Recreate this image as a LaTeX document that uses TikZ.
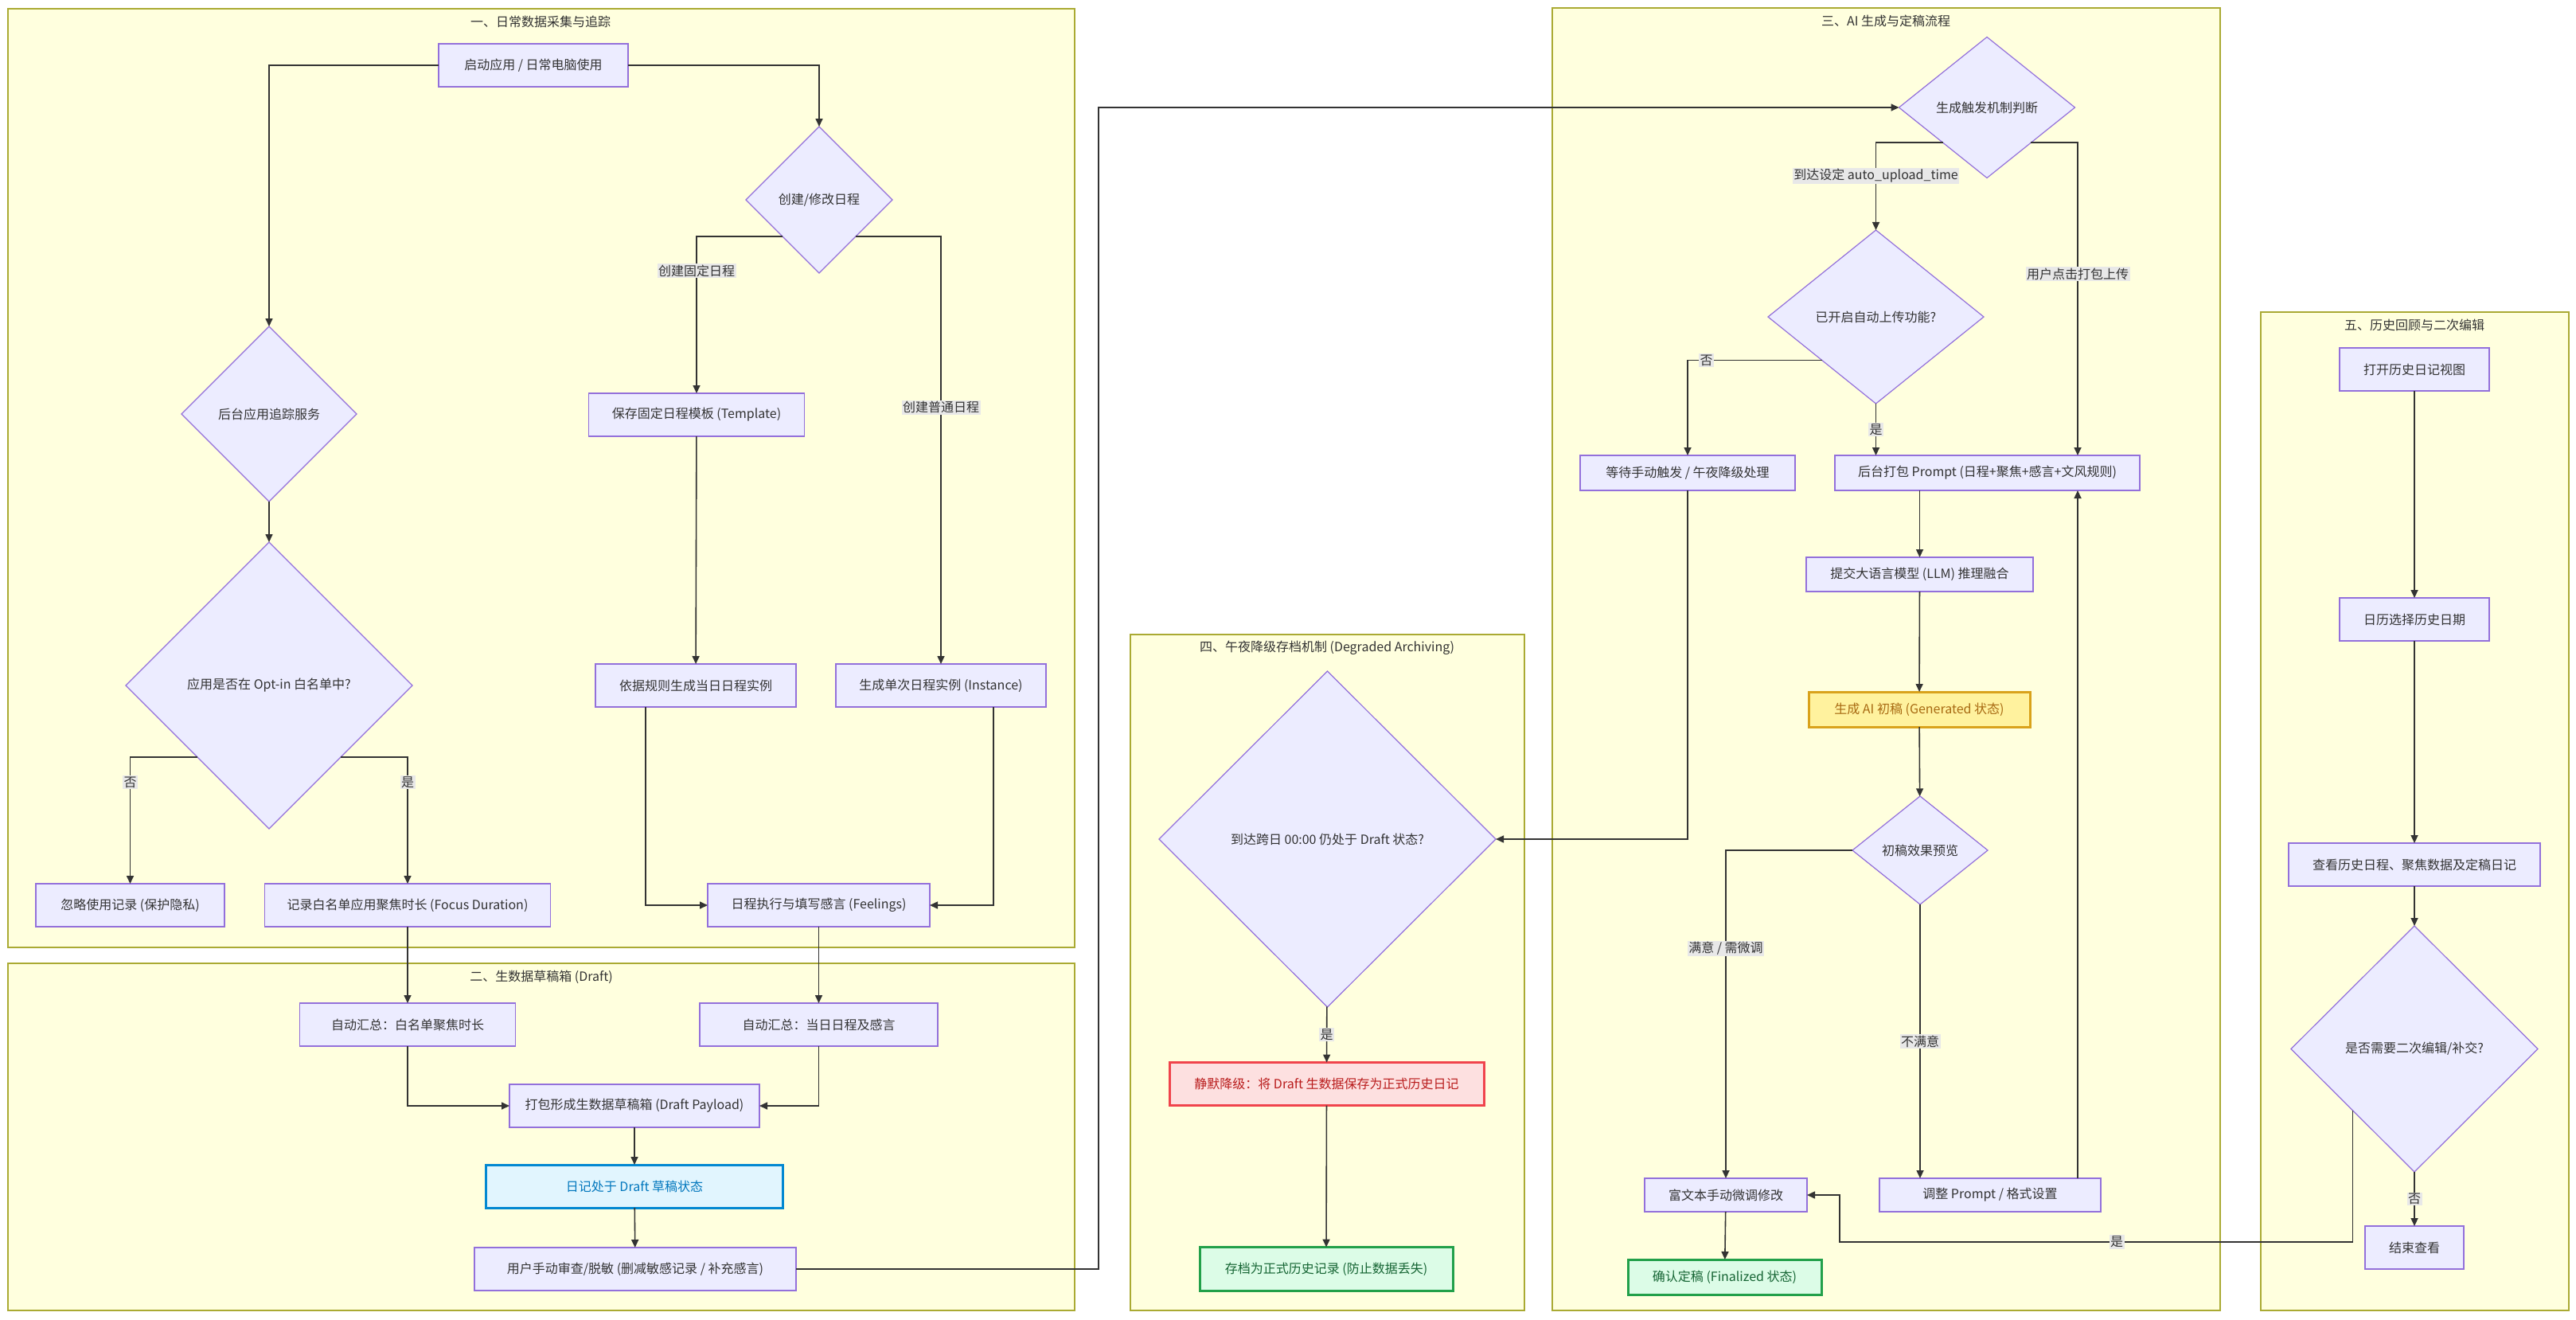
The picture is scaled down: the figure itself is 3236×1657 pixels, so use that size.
\documentclass[tikz,border=0pt]{standalone}
\usepackage{fontspec}
\setmainfont{Noto Sans CJK SC}
\usetikzlibrary{arrows.meta,shapes.geometric}

\definecolor{nodefill}{HTML}{ECECFF}
\definecolor{nodeline}{HTML}{9370DB}
\definecolor{clusterfill}{HTML}{FFFFDE}
\definecolor{clusterline}{HTML}{AAAA33}
\definecolor{edgegray}{HTML}{333333}
\definecolor{textgray}{HTML}{333333}
\definecolor{labelbg}{HTML}{E8E8E8}

\tikzset{
  every node/.style={font=\fontsize{16}{19}\selectfont, text=textgray},
  cluster/.style={draw=clusterline, fill=clusterfill, line width=1.2pt},
  box/.style={draw=nodeline, fill=nodefill, line width=1.2pt, inner sep=0pt, outer sep=0pt, minimum height=54pt},
  dec/.style={diamond, draw=nodeline, fill=nodefill, line width=1.2pt, inner sep=0pt, outer sep=0pt},
  flow/.style={draw=edgegray, line width=1.6pt, -{Triangle[length=10pt,width=9pt]}},
  lbl/.style={fill=labelbg, inner sep=1.5pt},
  draftbox/.style={box, draw=HTML0288D1, fill=HTMLE1F5FE, text=HTML0277BD, line width=3pt},
  genbox/.style={box, draw=HTMLD9A21B, fill=HTMLFFF29E, text=HTMLA86A12, line width=3pt},
  redbox/.style={box, draw=HTMLF0444C, fill=HTMLFDE0E0, text=HTMLB91C1C, line width=3pt},
  greenbox/.style={box, draw=HTML22A04A, fill=HTMLDCFCE7, text=HTML166534, line width=3pt}
}
\definecolor{HTML0288D1}{HTML}{0288D1}
\definecolor{HTMLE1F5FE}{HTML}{E1F5FE}
\definecolor{HTML0277BD}{HTML}{0277BD}
\definecolor{HTMLD9A21B}{HTML}{D9A21B}
\definecolor{HTMLFFF29E}{HTML}{FFF29E}
\definecolor{HTMLA86A12}{HTML}{A86A12}
\definecolor{HTMLF0444C}{HTML}{F0444C}
\definecolor{HTMLFDE0E0}{HTML}{FDE0E0}
\definecolor{HTMLB91C1C}{HTML}{B91C1C}
\definecolor{HTML22A04A}{HTML}{22A04A}
\definecolor{HTMLDCFCE7}{HTML}{DCFCE7}
\definecolor{HTML166534}{HTML}{166534}

\begin{document}
\begin{tikzpicture}[x=1pt, y=-1pt]
  \fill[white] (0,0) rectangle (3236,1657);
  \useasboundingbox (0,0) rectangle (3236,1657);

  % clusters
  \draw[cluster] (10,11) rectangle (1350,1190);
  \draw[cluster] (10,1210) rectangle (1350,1646);
  \draw[cluster] (1950,10) rectangle (2789,1646);
  \draw[cluster] (1420,797) rectangle (1915,1646);
  \draw[cluster] (2840,392) rectangle (3227,1646);
  \node (t1) at (679,27) {一、日常数据采集与追踪};
  \node (t2) at (680,1227) {二、生数据草稿箱 (Draft)};
  \node (t3) at (2369,26) {三、AI 生成与定稿流程};
  \node (t4) at (1667,814) {四、午夜降级存档机制 (Degraded Archiving)};
  \node (t5) at (3033,408) {五、历史回顾与二次编辑};

  % section 1
  \node[box, minimum width=238pt] (start) at (670,82) {启动应用 / 日常电脑使用};
  \node[dec, minimum width=220pt, minimum height=220pt] (dtrack) at (338,520) {后台应用追踪服务};
  \node[dec, minimum width=360pt, minimum height=360pt] (doptin) at (338,861) {应用是否在 Opt-in 白名单中?};
  \node[box, minimum width=237pt] (ignore) at (163.5,1137) {忽略使用记录 (保护隐私)};
  \node[box, minimum width=359pt] (focus) at (512,1137) {记录白名单应用聚焦时长 (Focus Duration)};
  \node[dec, minimum width=184pt, minimum height=184pt] (dcreate) at (1029,251) {创建/修改日程};
  \node[box, minimum width=271pt] (tmpl) at (875,521) {保存固定日程模板 (Template)};
  \node[box, minimum width=252pt] (rule) at (874,861) {依据规则生成当日日程实例};
  \node[box, minimum width=264pt] (single) at (1182,861) {生成单次日程实例 (Instance)};
  \node[box, minimum width=279pt] (feel) at (1028.5,1137) {日程执行与填写感言 (Feelings)};

  % section 2
  \node[box, minimum width=271pt] (sumfocus) at (512,1287) {自动汇总：白名单聚焦时长};
  \node[box, minimum width=299pt] (sumfeel) at (1028.5,1287) {自动汇总：当日日程及感言};
  \node[box, minimum width=314pt] (payload) at (797,1389) {打包形成生数据草稿箱 (Draft Payload)};
  \node[draftbox, minimum width=373pt] (draft) at (797,1490) {日记处于 Draft 草稿状态};
  \node[box, minimum width=404pt] (review) at (798,1594) {用户手动审查/脱敏 (删减敏感记录 / 补充感言)};

  % section 3
  \node[dec, minimum width=221pt, minimum height=177pt] (trig) at (2496,135) {生成触发机制判断};
  \node[dec, minimum width=271pt, minimum height=218pt] (dauto) at (2356.5,398) {已开启自动上传功能?};
  \node[box, minimum width=270pt, minimum height=44pt] (wait) at (2120,594) {等待手动触发 / 午夜降级处理};
  \node[box, minimum width=383pt, minimum height=44pt] (prompt) at (2496.5,594) {后台打包 Prompt (日程+聚焦+感言+文风规则)};
  \node[box, minimum width=285pt, minimum height=43pt] (llm) at (2411.5,721.5) {提交大语言模型 (LLM) 推理融合};
  \node[genbox, minimum width=278pt, minimum height=44pt] (gen) at (2411,891) {生成 AI 初稿 (Generated 状态)};
  \node[dec, minimum width=170pt, minimum height=136pt] (dprev) at (2412,1068) {初稿效果预览};
  \node[box, minimum width=204pt, minimum height=42pt] (rich) at (2168,1501) {富文本手动微调修改};
  \node[box, minimum width=278pt, minimum height=42pt] (adjust) at (2500,1501) {调整 Prompt / 格式设置};
  \node[greenbox, minimum width=243pt, minimum height=44pt] (final) at (2166.5,1604) {确认定稿 (Finalized 状态)};

  % section 4
  \node[dec, minimum width=423pt, minimum height=422pt] (dmid) at (1667.5,1054) {到达跨日 00:00 仍处于 Draft 状态?};
  \node[redbox, minimum width=395pt] (silent) at (1666.5,1361.5) {静默降级：将 Draft 生数据保存为正式历史日记};
  \node[greenbox, minimum width=318pt, minimum height=55pt] (archive) at (1666,1594) {存档为正式历史记录 (防止数据丢失)};

  % section 5
  \node[box, minimum width=188pt] (open) at (3033,464) {打开历史日记视图};
  \node[box, minimum width=188pt] (cal) at (3033,778) {日历选择历史日期};
  \node[box, minimum width=316pt] (view) at (3033,1086) {查看历史日程、聚焦数据及定稿日记};
  \node[dec, minimum width=310pt, minimum height=309pt] (dedit) at (3033,1317.5) {是否需要二次编辑/补交?};
  \node[box, minimum width=124pt] (finish) at (3033,1567) {结束查看};

  \coordinate (bend) at (1380,135);
  \coordinate (jog) at (2311,1560);

  % edges, section 1
  \draw[flow] (start) -| (dtrack);
  \draw[flow] (start) -| (dcreate);
  \draw[flow] (dtrack) -- (doptin);
  \draw[flow] (doptin.south west) -| (ignore) node[lbl, pos=0.6] {否};
  \draw[flow] (doptin.south east) -| (focus) node[lbl, pos=0.6] {是};
  \draw[flow] (dcreate.south west) -| (tmpl) node[lbl, pos=0.61] {创建固定日程};
  \draw[flow] (dcreate.south east) -| (single) node[lbl, pos=0.7] {创建普通日程};
  \draw[flow] (tmpl) -- (rule);
  \draw[flow] ([xshift=63pt]rule.south west) |- (feel);
  \draw[flow] ([xshift=-66pt]single.south east) |- (feel);

  % edges, section 2
  \draw[flow] (focus) -- (sumfocus);
  \draw[flow] (feel) -- (sumfeel);
  \draw[flow] (sumfocus) |- (payload);
  \draw[flow] (sumfeel) |- (payload);
  \draw[flow] (payload) -- (draft);
  \draw[flow] (draft) -- (review);
  \draw[flow] (review.east) -| (bend) -- (trig.west);

  % edges, section 3
  \draw[flow] (trig.south west) -| (dauto) node[lbl, pos=0.69] {到达设定 auto\_upload\_time};
  \draw[flow] (trig.south east) -| ([xshift=-78pt]prompt.north east) node[lbl, pos=0.71] {用户点击打包上传};
  \draw[flow] (dauto.south west) -| (wait) node[lbl, pos=0.43] {否};
  \draw[flow] (dauto.south) -- (dauto.south |- prompt.north) node[lbl, pos=0.5] {是};
  \draw[flow] (wait) |- (dmid);
  \draw[flow] (prompt.south -| llm.north) -- (llm);
  \draw[flow] (llm) -- (gen);
  \draw[flow] (gen) -- (dprev);
  \draw[flow] (dprev) -| (rich) node[lbl, pos=0.65] {满意 / 需微调};
  \draw[flow] (dprev.south) -- (dprev.south |- adjust.north) node[lbl, pos=0.5] {不满意};
  \draw[flow] ([xshift=-29pt]adjust.north east) -- ([xshift=-78pt]prompt.south east);
  \draw[flow] (rich) -- (final);

  % edges, section 4
  \draw[flow] (dmid) -- (silent) node[lbl, pos=0.5] {是};
  \draw[flow] (silent) -- (archive);

  % edges, section 5
  \draw[flow] (open) -- (cal);
  \draw[flow] (cal) -- (view);
  \draw[flow] (view) -- (dedit);
  \draw[flow] (dedit) -- (finish) node[lbl, pos=0.5] {否};
  \draw[flow] (dedit.south west) |- (jog) node[lbl, pos=0.73] {是} |- (rich.east);
\end{tikzpicture}
\end{document}
